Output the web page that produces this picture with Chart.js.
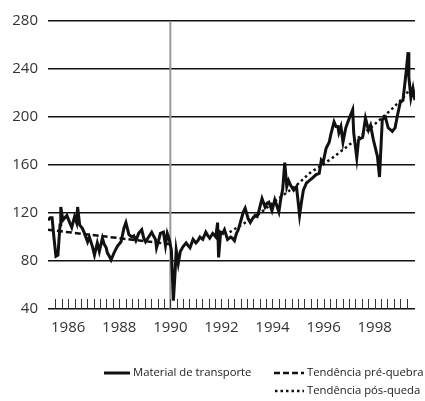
<!DOCTYPE html>
<html>
<head>
<meta charset="utf-8">
<script src="https://cdn.jsdelivr.net/npm/chart.js@4/dist/chart.umd.min.js"></script>
<style>
  html, body { margin: 0; padding: 0; background: #fff; }
  #wrap { width: 425px; height: 401px; }
</style>
</head>
<body>
<div id="wrap"><canvas id="myChart"></canvas></div>
<script>
// series (x in decimal years)
const materialYears = [
  1985.21, 1985.29, 1985.37, 1985.44, 1985.52, 1985.60, 1985.68, 1985.71, 1985.79, 1985.87,
  1985.95, 1986.06, 1986.14, 1986.25, 1986.33, 1986.37, 1986.45, 1986.56, 1986.64, 1986.76,
  1986.83, 1986.95, 1987.03, 1987.14, 1987.22, 1987.34, 1987.41, 1987.49, 1987.53, 1987.61,
  1987.68, 1987.80, 1987.92, 1987.99, 1988.07, 1988.19, 1988.26, 1988.38, 1988.49, 1988.57,
  1988.65, 1988.76, 1988.88, 1988.96, 1989.03, 1989.15, 1989.27, 1989.34, 1989.42, 1989.46,
  1989.54, 1989.61, 1989.73, 1989.81, 1989.88, 1989.96, 1990.04, 1990.12, 1990.19, 1990.23,
  1990.31, 1990.39, 1990.50, 1990.62, 1990.69, 1990.77, 1990.89, 1991.00, 1991.08, 1991.16,
  1991.27, 1991.39, 1991.47, 1991.54, 1991.66, 1991.78, 1991.85, 1991.89, 1991.97, 1992.05,
  1992.12, 1992.24, 1992.36, 1992.43, 1992.51, 1992.59, 1992.66, 1992.78, 1992.86, 1992.93,
  1993.05, 1993.13, 1993.24, 1993.32, 1993.40, 1993.47, 1993.59, 1993.71, 1993.78, 1993.86,
  1993.98, 1994.09, 1994.17, 1994.25, 1994.32, 1994.40, 1994.48, 1994.56, 1994.63, 1994.71,
  1994.83, 1994.94, 1995.06, 1995.14, 1995.21, 1995.33, 1995.44, 1995.56, 1995.71, 1995.83,
  1995.91, 1995.98, 1996.10, 1996.22, 1996.29, 1996.41, 1996.49, 1996.56, 1996.60, 1996.68,
  1996.76, 1996.87, 1996.99, 1997.14, 1997.18, 1997.30, 1997.37, 1997.53, 1997.64, 1997.76,
  1997.84, 1997.95, 1998.11, 1998.19, 1998.30, 1998.42, 1998.53, 1998.69, 1998.80, 1998.88,
  1999.00, 1999.11, 1999.23, 1999.31, 1999.34, 1999.42, 1999.50, 1999.58
];
const materialValues = [
  114, 116, 116, 100, 84, 85, 110, 125, 114, 116,
  118, 112, 108, 117, 112, 125, 110, 107, 103, 96,
  100, 92, 85, 95, 88, 99, 94, 91, 87, 84,
  81, 87, 92, 94, 96, 108, 112, 102, 100, 101,
  97, 103, 106, 99, 96, 100, 104, 101, 98, 91,
  97, 103, 104, 93, 103, 98, 89, 47, 72, 89,
  78, 88, 92, 95, 93, 91, 98, 95, 97, 100,
  98, 104, 101, 99, 103, 100, 112, 83, 104, 103,
  106, 98, 100, 99, 97, 103, 106, 115, 121, 124,
  115, 112, 116, 118, 117, 122, 132, 125, 128, 129,
  122, 131, 126, 121, 131, 140, 162, 142, 147, 143,
  139, 142, 118, 130, 139, 145, 147, 149, 152, 153,
  164, 162, 174, 179, 186, 196, 192, 192, 187, 192,
  179, 191, 198, 206, 187, 166, 181, 183, 199, 189,
  193, 181, 167, 150, 198, 200, 191, 188, 191, 200,
  212, 214, 237, 254, 233, 216, 224, 214
];

const preTrendYears = [1985.21, 1990.0];
const preTrendValues = [106, 94];

const posTrendYears = [1992.32, 1992.70, 1993.40, 1994.17, 1994.94, 1995.44, 1996.29,
  1997.14, 1997.84, 1998.22, 1998.69, 1999.07, 1999.50];
const posTrendValues = [104, 109, 118, 131, 143, 153, 165, 179, 191, 198, 207, 215, 226];

const breakYear = 1990;
const yearLabels = [1986, 1988, 1990, 1992, 1994, 1996, 1998];
const yMin = 40, yMax = 280, yStep = 40;

const seriesNames = ["Material de transporte", "Tendência pré-quebra", "Tendência pós-queda"];

const toPoints = (xs, ys) => xs.map((x, i) => ({ x: x, y: ys[i] }));

/* quarterly tick marks pointing up from the axis */
const upTicks = {
  id: "upTicks",
  afterDatasetsDraw(chart) {
    const { ctx, chartArea, scales: { x } } = chart;
    ctx.save();
    ctx.strokeStyle = "#333";
    ctx.lineWidth = 1;
    x.ticks.forEach((t) => {
      const q = t.value * 4;
      if (Math.abs(q - Math.round(q)) > 1e-6) return;
      const px = Math.round(x.getPixelForValue(t.value)) + 0.5;
      ctx.beginPath();
      ctx.moveTo(px, chartArea.bottom);
      ctx.lineTo(px, chartArea.bottom - 10);
      ctx.stroke();
    });
    ctx.restore();
  },
};

/* legend laid out like the original: two on the first row, one under the second */
const sideLegend = {
  id: "sideLegend",
  afterDraw(chart) {
    const { ctx } = chart;
    const ds = chart.data.datasets;
    const spots = [
      { i: 0, x: 104, y: 373, len: 26 },
      { i: 1, x: 274, y: 373, len: 30 },
      { i: 2, x: 275, y: 391, len: 29 },
    ];
    ctx.save();
    ctx.font = "11.3px 'Open Sans'";
    ctx.fillStyle = "#222";
    ctx.textBaseline = "middle";
    spots.forEach((s) => {
      const d = ds[s.i];
      ctx.beginPath();
      ctx.setLineDash(d.borderDash || []);
      ctx.lineWidth = d.borderWidth;
      ctx.strokeStyle = d.borderColor;
      ctx.moveTo(s.x, s.y);
      ctx.lineTo(s.x + s.len, s.y);
      ctx.stroke();
      ctx.setLineDash([]);
      ctx.fillText(d.label, s.x + s.len + 3, s.y);
    });
    ctx.restore();
  },
};

const canvas = document.getElementById("myChart");
const ctx = canvas.getContext("2d");

canvas.chart = new Chart(ctx, {
  type: "line",
  data: {
    datasets: [
      {
        label: seriesNames[0],
        data: toPoints(materialYears, materialValues),
        borderColor: "#111",
        borderWidth: 3,
        pointRadius: 0,
        tension: 0,
      },
      {
        label: seriesNames[1],
        data: toPoints(preTrendYears, preTrendValues),
        borderColor: "#111",
        borderWidth: 2.5,
        borderDash: [6, 3],
        pointRadius: 0,
      },
      {
        label: seriesNames[2],
        data: toPoints(posTrendYears, posTrendValues),
        borderColor: "#111",
        borderWidth: 2.5,
        borderDash: [2.5, 3],
        pointRadius: 0,
      },
      {
        label: "quebra",
        data: [{ x: breakYear, y: yMin }, { x: breakYear, y: yMax }],
        borderColor: "#9a9a9a",
        borderWidth: 2,
        pointRadius: 0,
      },
    ],
  },
  options: {
    responsive: true,
    maintainAspectRatio: false,
    animation: false,
    layout: { padding: { top: 21, right: 5, left: 0, bottom: 62 } },
    plugins: {
      legend: { display: false },
      tooltip: { enabled: false },
    },
    scales: {
      x: {
        type: "linear",
        min: 1985.21,
        max: 1999.58,
        grid: { display: false, drawTicks: false },
        border: { display: false },
        afterFit: (s) => { s.height = 30; },
        ticks: {
          stepSize: 0.25,
          autoSkip: false,
          maxRotation: 0,
          padding: 10,
          color: "#333",
          font: { family: "'Open Sans'", size: 15 },
          callback: (v) => (yearLabels.includes(v) ? String(v) : ""),
        },
      },
      y: {
        min: yMin,
        max: yMax,
        grid: { color: "#111", lineWidth: 1.5, drawTicks: false },
        border: { display: false },
        afterFit: (s) => { s.width = 48; },
        ticks: {
          stepSize: yStep,
          padding: 10,
          color: "#333",
          font: { family: "'Open Sans'", size: 15 },
        },
      },
    },
  },
  plugins: [upTicks, sideLegend],
});
</script>
</body>
</html>
